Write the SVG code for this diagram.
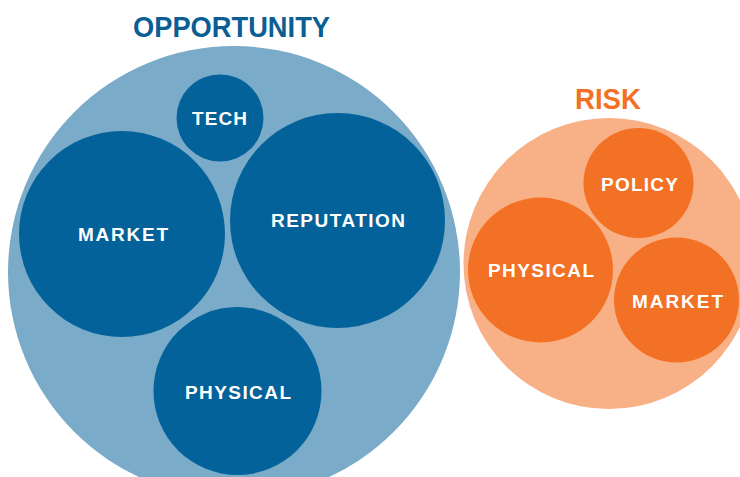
<svg xmlns="http://www.w3.org/2000/svg" width="740" height="477" viewBox="0 0 740 477">
  <style>
    .title { font-family: "Liberation Sans", Arial, sans-serif; font-weight: bold; font-size: 29px; }
    .label { font-family: "Liberation Sans", Arial, sans-serif; font-weight: bold; font-size: 19px; fill: #ffffff; }
    .opp-outer { fill: #7AABC8; }
    .opp-inner { fill: #03629A; }
    .risk-outer { fill: #F8B187; }
    .risk-inner { fill: #F37124; }
  </style>
  <rect width="740" height="477" fill="#ffffff"/>

  <!-- Opportunity cluster -->
  <text class="title" x="133" y="37" textLength="197" lengthAdjust="spacingAndGlyphs" fill="#0A5E94">OPPORTUNITY</text>
  <g id="opportunity">
    <circle class="opp-outer" cx="234" cy="272" r="226"/>
  </g>
  <g id="opp-tech">
    <circle class="opp-inner" cx="220" cy="118" r="43.5"/>
    <text class="label" x="192" y="125" textLength="55" lengthAdjust="spacing">TECH</text>
  </g>
  <g id="opp-market">
    <circle class="opp-inner" cx="122" cy="234" r="103"/>
    <text class="label" x="78" y="241" textLength="90" lengthAdjust="spacing">MARKET</text>
  </g>
  <g id="opp-reputation">
    <circle class="opp-inner" cx="337.5" cy="220.5" r="107.5"/>
    <text class="label" x="271" y="227" textLength="134" lengthAdjust="spacing">REPUTATION</text>
  </g>
  <g id="opp-physical">
    <circle class="opp-inner" cx="237.5" cy="391" r="84"/>
    <text class="label" x="185" y="399" textLength="106" lengthAdjust="spacing">PHYSICAL</text>
  </g>

  <!-- Risk cluster -->
  <text class="title" x="575" y="109" textLength="66" lengthAdjust="spacingAndGlyphs" fill="#F37124">RISK</text>
  <g id="risk">
    <circle class="risk-outer" cx="609" cy="263.5" r="145.5"/>
  </g>
  <g id="risk-policy">
    <circle class="risk-inner" cx="638.5" cy="183" r="55"/>
    <text class="label" x="601" y="191" textLength="77" lengthAdjust="spacing">POLICY</text>
  </g>
  <g id="risk-physical">
    <circle class="risk-inner" cx="540.5" cy="270" r="72.5"/>
    <text class="label" x="488" y="277" textLength="106" lengthAdjust="spacing">PHYSICAL</text>
  </g>
  <g id="risk-market">
    <circle class="risk-inner" cx="676.5" cy="300" r="62.5"/>
    <text class="label" x="632" y="308" textLength="91" lengthAdjust="spacing">MARKET</text>
  </g>

  <g id="connectors"/>
</svg>
